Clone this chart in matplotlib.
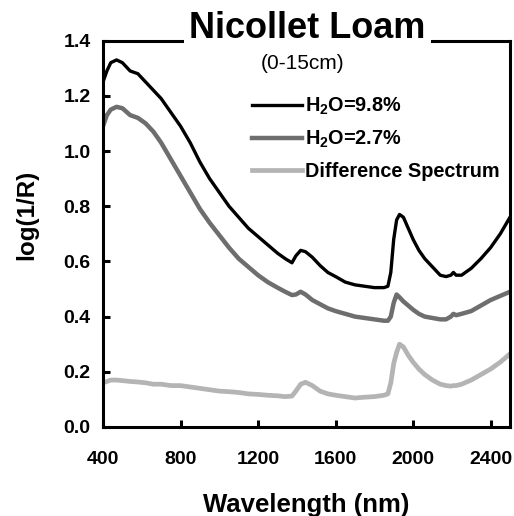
#!/usr/bin/env python3
"""Soil reflectance spectra for Nicollet loam at two moisture levels."""

import matplotlib as mpl

mpl.use("Agg")
import matplotlib.pyplot as plt

plt.rcParams["font.family"] = ["Liberation Sans", "DejaVu Sans"]
plt.rcParams["mathtext.fontset"] = "custom"
plt.rcParams["mathtext.rm"] = "Liberation Sans:bold"
plt.rcParams["mathtext.bf"] = "Liberation Sans:bold"

wavelength = [
    400, 420, 440, 470, 500, 540, 580, 620, 660, 700, 750, 800, 850, 900,
    950, 1000, 1050, 1100, 1150, 1200, 1250, 1300, 1340, 1375, 1395, 1420,
    1445, 1480, 1520, 1560, 1600, 1650, 1700, 1750, 1800, 1850, 1870, 1885,
    1900, 1915, 1930, 1950, 1975, 2000, 2030, 2060, 2100, 2140, 2170, 2195,
    2208, 2222, 2250, 2300, 2350, 2400, 2450, 2500,
]
wet = [
    1.25, 1.29, 1.32, 1.33, 1.32, 1.29, 1.28, 1.25, 1.22, 1.19, 1.14, 1.09,
    1.03, 0.96, 0.90, 0.85, 0.80, 0.76, 0.72, 0.69, 0.66, 0.63, 0.61, 0.595,
    0.62, 0.64, 0.635, 0.615, 0.585, 0.56, 0.545, 0.525, 0.515, 0.51, 0.505,
    0.505, 0.51, 0.56, 0.68, 0.75, 0.77, 0.76, 0.72, 0.68, 0.64, 0.61, 0.58,
    0.55, 0.545, 0.55, 0.56, 0.55, 0.55, 0.575, 0.61, 0.65, 0.70, 0.76,
]
dry = [
    1.09, 1.13, 1.15, 1.16, 1.155, 1.13, 1.12, 1.10, 1.07, 1.03, 0.97, 0.91,
    0.85, 0.79, 0.74, 0.695, 0.65, 0.61, 0.58, 0.55, 0.525, 0.505, 0.49,
    0.478, 0.48, 0.49, 0.48, 0.46, 0.445, 0.43, 0.42, 0.41, 0.40, 0.395,
    0.39, 0.385, 0.385, 0.40, 0.45, 0.48, 0.47, 0.455, 0.44, 0.425, 0.41,
    0.40, 0.395, 0.39, 0.39, 0.40, 0.41, 0.405, 0.41, 0.42, 0.44, 0.46,
    0.475, 0.49,
]
difference = [
    0.16, 0.165, 0.17, 0.17, 0.168, 0.165, 0.163, 0.16, 0.155, 0.155, 0.15,
    0.15, 0.145, 0.14, 0.135, 0.13, 0.128, 0.125, 0.12, 0.118, 0.115, 0.113,
    0.11, 0.112, 0.13, 0.155, 0.162, 0.15, 0.13, 0.12, 0.115, 0.11, 0.105,
    0.108, 0.11, 0.115, 0.12, 0.16, 0.23, 0.27, 0.30, 0.29, 0.26, 0.235,
    0.21, 0.19, 0.17, 0.155, 0.15, 0.148, 0.15, 0.15, 0.155, 0.17, 0.19,
    0.21, 0.235, 0.265,
]
x_ticks = [400, 800, 1200, 1600, 2000, 2400]
y_ticks = [0.0, 0.2, 0.4, 0.6, 0.8, 1.0, 1.2, 1.4]

fig = plt.figure(figsize=(5.14, 5.16), dpi=100)
ax = fig.add_axes([0.2004, 0.1725, 0.7918, 0.7488])

ax.plot(wavelength, wet, color="black", lw=2.4, label=r"$\mathbf{H_2O}$=9.8%")
ax.plot(wavelength, dry, color="#6e6e6e", lw=3.2, label=r"$\mathbf{H_2O}$=2.7%")
ax.plot(wavelength, difference, color="#b4b4b4", lw=3.4,
        label="Difference Spectrum")

ax.set_xlim(400, 2500)
ax.set_ylim(0, 1.4)
ax.set_xticks(x_ticks)
ax.set_yticks(y_ticks)
ax.set_yticklabels([f"{v:.1f}" for v in y_ticks])
ax.tick_params(direction="in", length=5, width=2.2, labelsize=14)
ax.tick_params(axis="x", pad=17)
ax.tick_params(axis="y", pad=9)
for lab in ax.get_xticklabels() + ax.get_yticklabels():
    lab.set_fontweight("bold")
for side in ["left", "right", "top", "bottom"]:
    ax.spines[side].set_linewidth(2.2)

ax.set_xlabel("Wavelength (nm)", fontsize=18.5, fontweight="bold", labelpad=18)
ax.set_ylabel("log(1/R)", fontsize=17.5, fontweight="bold")
ax.yaxis.set_label_coords(-0.16, 0.55)

fig.text(0.598, 0.926, "Nicollet Loam", ha="center", va="baseline",
         fontsize=26, fontweight="bold",
         bbox=dict(facecolor="white", edgecolor="none", pad=4))
fig.text(0.5885, 0.876, "(0-15cm)", ha="center", va="center", fontsize=15)

ax.legend(loc="upper left", bbox_to_anchor=(0.490, 0.815),
          bbox_transform=fig.transFigure, frameon=False,
          prop={"weight": "bold", "size": 14.3}, handlelength=2.5,
          handletextpad=0.2, labelspacing=0.6, borderpad=0,
          borderaxespad=0)

fig.savefig("out.png", dpi=100)
